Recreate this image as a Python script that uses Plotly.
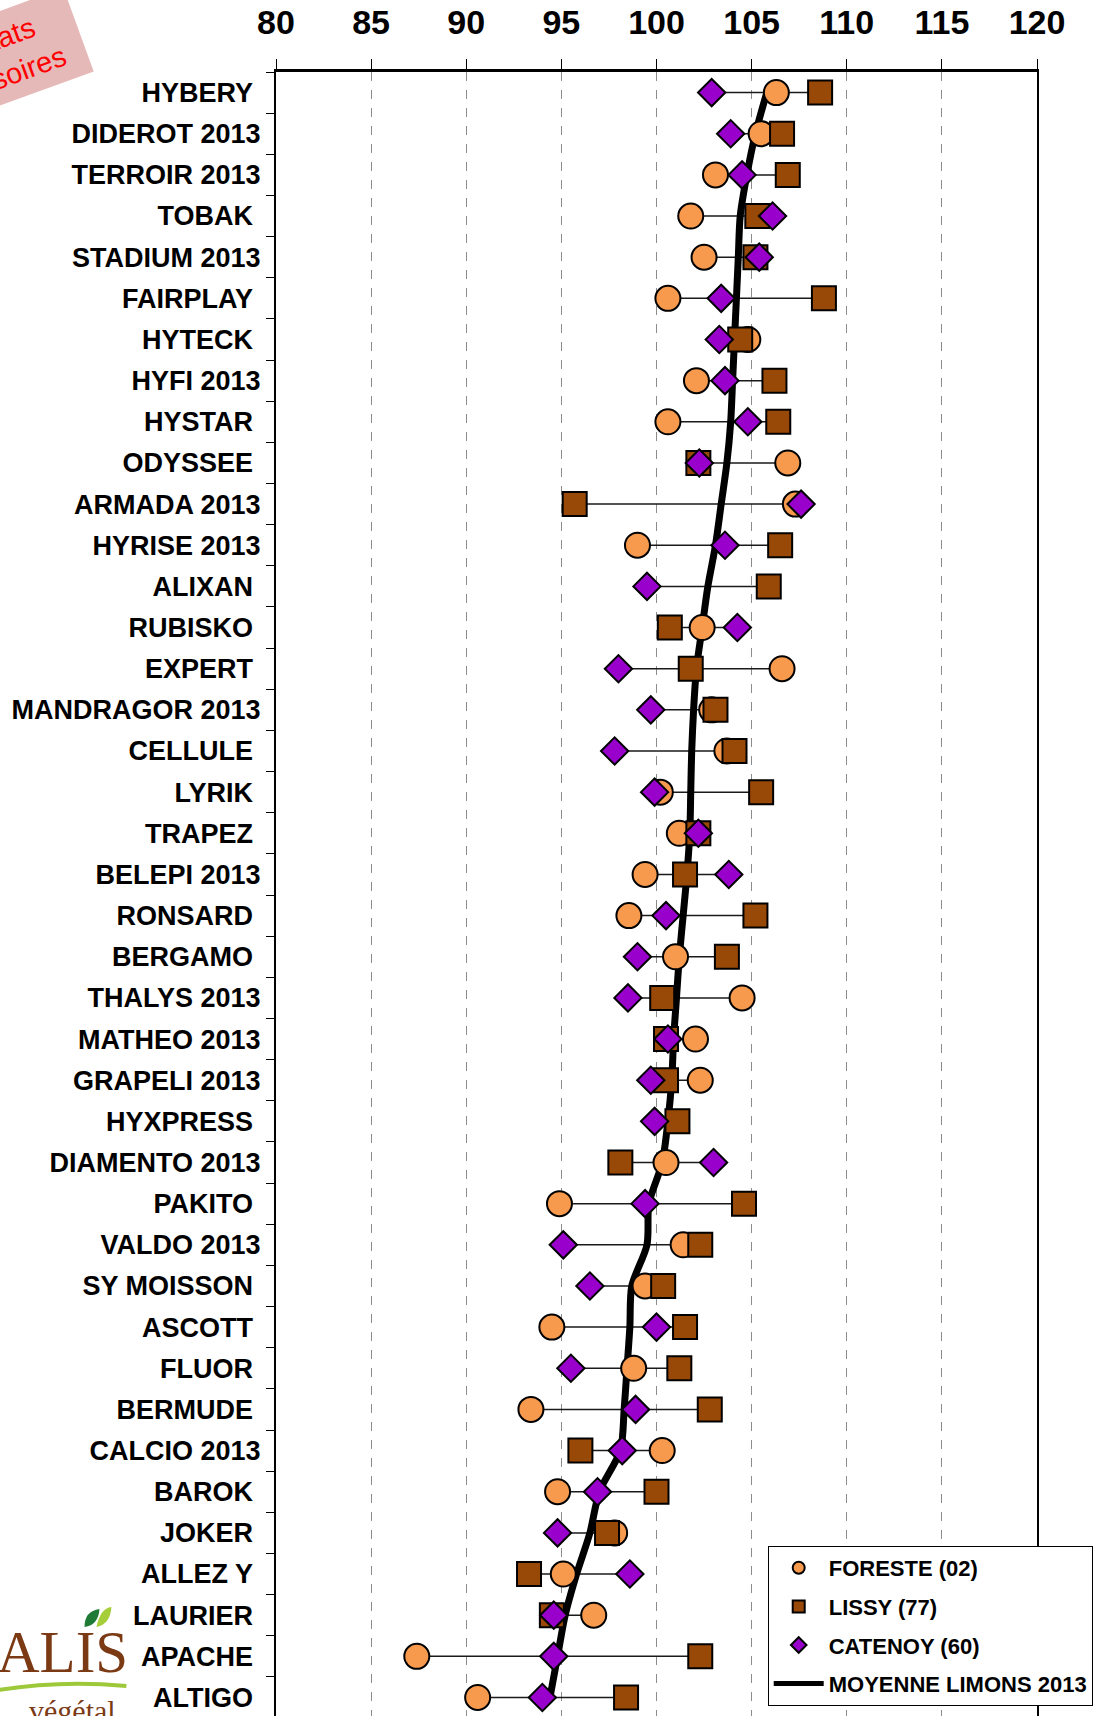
import plotly.graph_objects as go

varieties = ["HYBERY", "DIDEROT 2013", "TERROIR 2013", "TOBAK", "STADIUM 2013", "FAIRPLAY",
             "HYTECK", "HYFI 2013", "HYSTAR", "ODYSSEE", "ARMADA 2013", "HYRISE 2013", "ALIXAN",
             "RUBISKO", "EXPERT", "MANDRAGOR 2013", "CELLULE", "LYRIK", "TRAPEZ", "BELEPI 2013",
             "RONSARD", "BERGAMO", "THALYS 2013", "MATHEO 2013", "GRAPELI 2013", "HYXPRESS",
             "DIAMENTO 2013", "PAKITO", "VALDO 2013", "SY MOISSON", "ASCOTT", "FLUOR", "BERMUDE",
             "CALCIO 2013", "BAROK", "JOKER", "ALLEZ Y", "LAURIER", "APACHE", "ALTIGO"]

foreste = [106.3, 105.5, 103.1, 101.8, 102.5, 100.6, 104.8, 102.1, 100.6, 106.9,
           107.3, 99.0, None, 102.4, 106.6, 102.9, 103.7, 100.2, 101.2, 99.4,
           98.55, 101.0, 104.5, 102.05, 102.3, None, 100.5, 94.9, 101.4, 99.4,
           94.5, 98.8, 93.4, 100.3, 94.8, 97.8, 95.1, 96.7, 87.4, 90.6]

lissy = [108.6, 106.6, 106.9, 105.3, 105.2, 108.8, 104.4, 106.2, 106.4, 102.2,
         95.7, 106.5, 105.9, 100.7, 101.8, 103.1, 104.1, 105.5, 102.2, 101.5,
         105.2, 103.7, 100.3, 100.5, 100.5, 101.1, 98.1, 104.6, 102.3, 100.35,
         101.5, 101.2, 102.8, 96.0, 100.0, 97.4, 93.3, 94.5, 102.3, 98.4]

catenoy = [102.9, 103.9, 104.5, 106.1, 105.4, 103.4, 103.3, 103.6, 104.8, 102.25,
           107.6, 103.6, 99.5, 104.25, 98.0, 99.7, 97.8, 99.9, 102.2, 103.8,
           100.5, 99.0, 98.5, 100.6, 99.7, 99.9, 103.0, 99.4, 95.1, 96.5,
           100.0, 95.5, 98.9, 98.2, 96.9, 94.8, 98.6, 94.6, 94.6, 94.0]

moyenne = [105.8, 105.2, 104.75, 104.4, 104.3, 104.2, 104.1, 104.0, 103.9, 103.7,
           103.4, 103.1, 102.7, 102.4, 102.1, 101.95, 101.85, 101.8, 101.75, 101.6,
           101.4, 101.2, 101.05, 100.9, 100.8, 100.6, 100.3, 99.6, 99.5, 98.7,
           98.6, 98.45, 98.3, 98.1, 97.0, 96.5, 95.8, 95.2, 94.8, 94.4]

x_ticks = [80, 85, 90, 95, 100, 105, 110, 115, 120]

# labels as printed (names without a year carry a trailing space in the source)
y_labels = [n if n.endswith("2013") else n + "\u00a0" for n in varieties]

W, H = 1093, 1716
ML, MR, MT, MB = 276, 54, 72, 0
PW = W - ML - MR
PH = H - MT - MB


def px(x):
    return (x - ML) / PW


def py(y):
    return (H - MB - y) / PH


FONT = "Liberation Sans, Arial, sans-serif"

# high-low connector lines
cx, cy = [], []
for name, a, b, c in zip(varieties, foreste, lissy, catenoy):
    vals = [v for v in (a, b, c) if v is not None]
    cx += [min(vals), max(vals), None]
    cy += [name, name, None]

fig = go.Figure()
fig.add_trace(go.Scatter(x=cx, y=cy, mode="lines", line=dict(color="#1a1a1a", width=1.5),
                         showlegend=False, hoverinfo="skip"))
fig.add_trace(go.Scatter(x=moyenne, y=varieties, mode="lines", name="MOYENNE LIMONS 2013",
                         line=dict(color="black", width=7, shape="spline", smoothing=0.8),
                         legendgroup="m", legendrank=4))
fig.add_trace(go.Scatter(x=foreste, y=varieties, mode="markers", name="FORESTE (02)",
                         marker=dict(symbol="circle", size=25, color="#F79A4D",
                                     line=dict(color="black", width=2)),
                         legendgroup="f", legendrank=1))
fig.add_trace(go.Scatter(x=lissy, y=varieties, mode="markers", name="LISSY (77)",
                         marker=dict(symbol="square", size=24, color="#984807",
                                     line=dict(color="black", width=2)),
                         legendgroup="l", legendrank=2))
fig.add_trace(go.Scatter(x=catenoy, y=varieties, mode="markers", name="CATENOY (60)",
                         marker=dict(symbol="diamond", size=21, color="#9900CC",
                                     line=dict(color="black", width=2)),
                         legendgroup="c", legendrank=3))

shapes = [
    # green swoosh of the logo
    dict(type="path", xref="paper", yref="paper",
         path=f"M {px(-2)},{py(1690)} Q {px(60)},{py(1680)} {px(126)},{py(1686)}",
         line=dict(color="#9CC83A", width=4)),
    # leaves
    dict(type="path", xref="paper", yref="paper",
         path=f"M {px(84)},{py(1627)} Q {px(84)},{py(1611)} {px(99)},{py(1609)} "
              f"Q {px(98)},{py(1625)} {px(84)},{py(1627)} Z",
         fillcolor="#1F7A35", line=dict(width=0)),
    dict(type="path", xref="paper", yref="paper",
         path=f"M {px(96)},{py(1627)} Q {px(110)},{py(1624)} {px(111)},{py(1607)} "
              f"Q {px(100)},{py(1608)} {px(96)},{py(1627)} Z",
         fillcolor="#A6CE3A", line=dict(width=0)),
]

annotations = [
    dict(text="Résultats<br>provisoires", xref="paper", yref="paper",
         x=px(0), y=py(58), xanchor="center", yanchor="middle", showarrow=False,
         textangle=-20, bgcolor="#E6B9B9", width=157, height=80, borderpad=4,
         align="left",
         font=dict(family=FONT, size=29, color="#FF0000")),
    dict(text="ALIS", xref="paper", yref="paper", x=px(130), y=py(1652),
         xanchor="right", yanchor="middle", showarrow=False,
         font=dict(family="Liberation Serif, serif", size=59, color="#7B3A14")),
    dict(text="végétal", xref="paper", yref="paper", x=px(118), y=py(1710),
         xanchor="right", yanchor="middle", showarrow=False,
         font=dict(family="Liberation Serif, serif", size=30, color="#7B3A14")),
]

fig.update_layout(
    width=W, height=H,
    margin=dict(l=ML, r=MR, t=MT, b=MB, pad=0),
    paper_bgcolor="white", plot_bgcolor="white",
    font=dict(family=FONT, color="black"),
    showlegend=True,
    legend=dict(x=px(769), y=py(1546), xanchor="left", yanchor="top",
                bgcolor="white", bordercolor="black", borderwidth=1,
                font=dict(family=FONT, size=22, color="black", weight="bold"),
                traceorder="grouped", tracegroupgap=7, itemsizing="constant",
                itemwidth=50),
    xaxis=dict(side="top", range=[80, 120], tickvals=x_ticks, ticktext=[str(t) for t in x_ticks],
               showgrid=True, gridcolor="#8c8c8c", griddash="dash", gridwidth=1,
               showline=True, linecolor="black", linewidth=2.5, mirror=False,
               ticks="outside", ticklen=10, tickcolor="black", tickwidth=1,
               ticklabelstandoff=12,
               tickfont=dict(family=FONT, size=34, color="black", weight="bold"),
               zeroline=False, fixedrange=True),
    yaxis=dict(type="category", categoryorder="array", categoryarray=varieties,
               tickmode="array", tickvals=varieties, ticktext=y_labels,
               range=[len(varieties) - 0.55, -0.5],
               showgrid=False, showline=True, linecolor="black", linewidth=2, mirror=True,
               ticks="outside", ticklen=8, tickcolor="black", tickwidth=1,
               tickson="boundaries", ticklabelstandoff=8,
               tickfont=dict(family=FONT, size=27, color="black", weight="bold"),
               zeroline=False, fixedrange=True),
    shapes=shapes,
    annotations=annotations,
)

fig.write_html("out.html", config={"displayModeBar": False},
               post_script="document.body.style.margin='0';document.body.style.overflow='hidden';")
